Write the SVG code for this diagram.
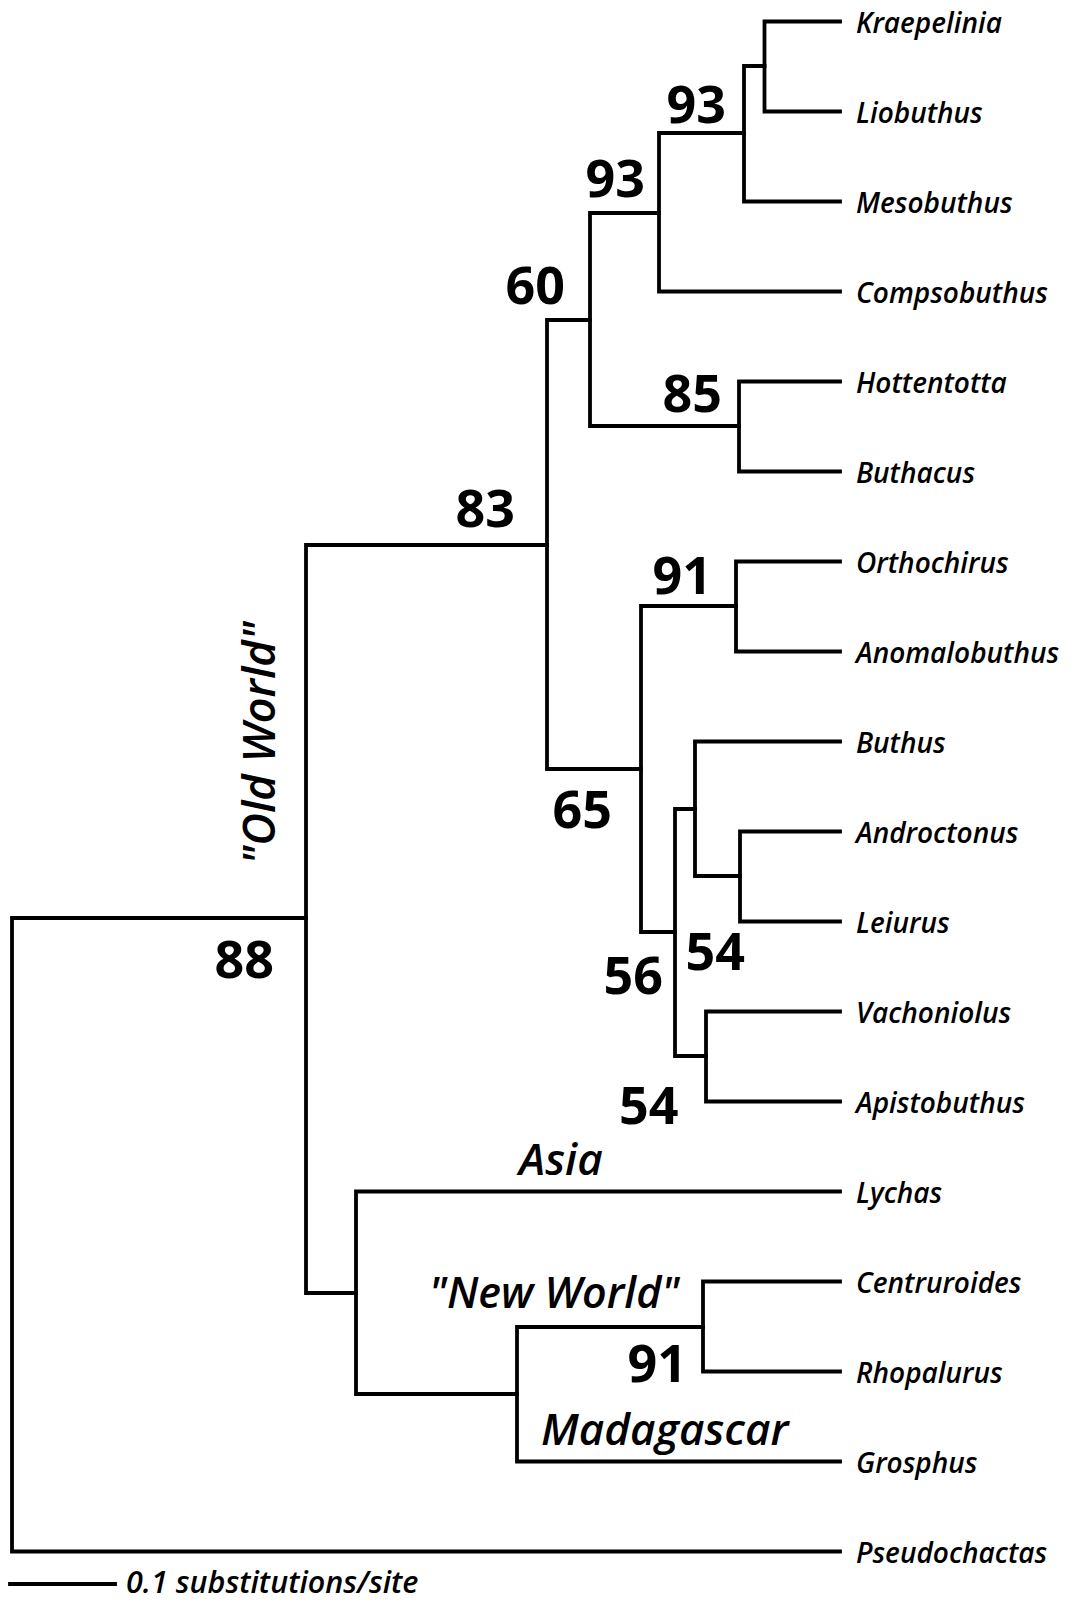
<svg xmlns="http://www.w3.org/2000/svg" width="1070" height="1602" viewBox="0 0 1070 1602">
<style>
.br{stroke:#000;stroke-width:3.8;fill:none;stroke-linecap:square}
.tx{font-family:'Open Sans','Liberation Sans',sans-serif;font-style:italic;font-weight:600;font-size:28px;fill:#000}
.bs{font-family:'Open Sans','Liberation Sans',sans-serif;font-weight:700;font-size:52px;fill:#000}
.rg{font-family:'Open Sans','Liberation Sans',sans-serif;font-style:italic;font-weight:600;font-size:44px;fill:#000}
</style>
<rect width="1070" height="1602" fill="#fff"/>
<g id="connectors" class="br">
<path d="M12 918V1551.5M12 918H306M12 1551.5H840"/>
<path d="M306 545V1293M306 545H547M306 1293H356"/>
<path d="M547 320V769M547 320H590M547 769H641"/>
<path d="M590 213V426M590 213H659M590 426H739"/>
<path d="M659 133V291.5M659 133H744M659 291.5H840"/>
<path d="M744 66V201.5M744 66H764.5M744 201.5H840"/>
<path d="M764.5 21.5V111.5M764.5 21.5H840M764.5 111.5H840"/>
<path d="M739 381.5V471.5M739 381.5H840M739 471.5H840"/>
<path d="M641 606V932M641 606H736M641 932H675"/>
<path d="M736 561.5V651.5M736 561.5H840M736 651.5H840"/>
<path d="M675 809V1056M675 809H695M675 1056H706"/>
<path d="M695 741.5V876M695 741.5H840M695 876H740"/>
<path d="M740 831.5V921.5M740 831.5H840M740 921.5H840"/>
<path d="M706 1011.5V1101.5M706 1011.5H840M706 1101.5H840"/>
<path d="M356 1191.5V1394M356 1191.5H840M356 1394H517"/>
<path d="M517 1327V1461.5M517 1327H703M517 1461.5H840"/>
<path d="M703 1281.5V1371.5M703 1281.5H840M703 1371.5H840"/>
<path d="M10 1584H115"/>
</g>
<g id="leaf-kraepelinia"><text class="tx" x="856" y="32.5">Kraepelinia</text></g>
<g id="leaf-liobuthus"><text class="tx" x="856" y="122.5">Liobuthus</text></g>
<g id="leaf-mesobuthus"><text class="tx" x="856" y="212.5">Mesobuthus</text></g>
<g id="leaf-compsobuthus"><text class="tx" x="856" y="302.5">Compsobuthus</text></g>
<g id="leaf-hottentotta"><text class="tx" x="856" y="392.5">Hottentotta</text></g>
<g id="leaf-buthacus"><text class="tx" x="856" y="482.5">Buthacus</text></g>
<g id="leaf-orthochirus"><text class="tx" x="856" y="572.5">Orthochirus</text></g>
<g id="leaf-anomalobuthus"><text class="tx" x="856" y="662.5">Anomalobuthus</text></g>
<g id="leaf-buthus"><text class="tx" x="856" y="752.5">Buthus</text></g>
<g id="leaf-androctonus"><text class="tx" x="856" y="842.5">Androctonus</text></g>
<g id="leaf-leiurus"><text class="tx" x="856" y="932.5">Leiurus</text></g>
<g id="leaf-vachoniolus"><text class="tx" x="856" y="1022.5">Vachoniolus</text></g>
<g id="leaf-apistobuthus"><text class="tx" x="856" y="1112.5">Apistobuthus</text></g>
<g id="leaf-lychas"><text class="tx" x="856" y="1202.5">Lychas</text></g>
<g id="leaf-centruroides"><text class="tx" x="856" y="1292.5">Centruroides</text></g>
<g id="leaf-rhopalurus"><text class="tx" x="856" y="1382.5">Rhopalurus</text></g>
<g id="leaf-grosphus"><text class="tx" x="856" y="1472.5">Grosphus</text></g>
<g id="leaf-pseudochactas"><text class="tx" x="856" y="1562.5">Pseudochactas</text></g>
<g id="node-93a"><text class="bs" x="666.5" y="123">93</text></g>
<g id="node-93b"><text class="bs" x="585.5" y="196.5">93</text></g>
<g id="node-60"><text class="bs" x="505.5" y="304">60</text></g>
<g id="node-85"><text class="bs" x="662.5" y="411.5">85</text></g>
<g id="node-83"><text class="bs" x="455.5" y="526.5">83</text></g>
<g id="node-91a"><text class="bs" x="652.5" y="594">91</text></g>
<g id="node-65"><text class="bs" x="552.5" y="827.5">65</text></g>
<g id="node-54a"><text class="bs" x="685.5" y="969.5">54</text></g>
<g id="node-56"><text class="bs" x="603.5" y="994">56</text></g>
<g id="node-54b"><text class="bs" x="619" y="1123.5">54</text></g>
<g id="node-88"><text class="bs" x="214.5" y="978">88</text></g>
<g id="node-91b"><text class="bs" x="627.5" y="1381.5">91</text></g>
<g id="region-old-world"><text class="rg" style="font-size:45px" text-anchor="middle" transform="translate(275 743) rotate(-90)">"Old World"</text></g>
<g id="region-asia"><text class="rg" x="519" y="1175">Asia</text></g>
<g id="region-new-world"><text class="rg" style="font-size:43px" x="429" y="1308">"New World"</text></g>
<g id="region-madagascar"><text class="rg" x="541" y="1445">Madagascar</text></g>
<g id="scale-bar"><text class="tx" style="font-size:30.5px" x="126" y="1593">0.1 substitutions/site</text></g>
</svg>
